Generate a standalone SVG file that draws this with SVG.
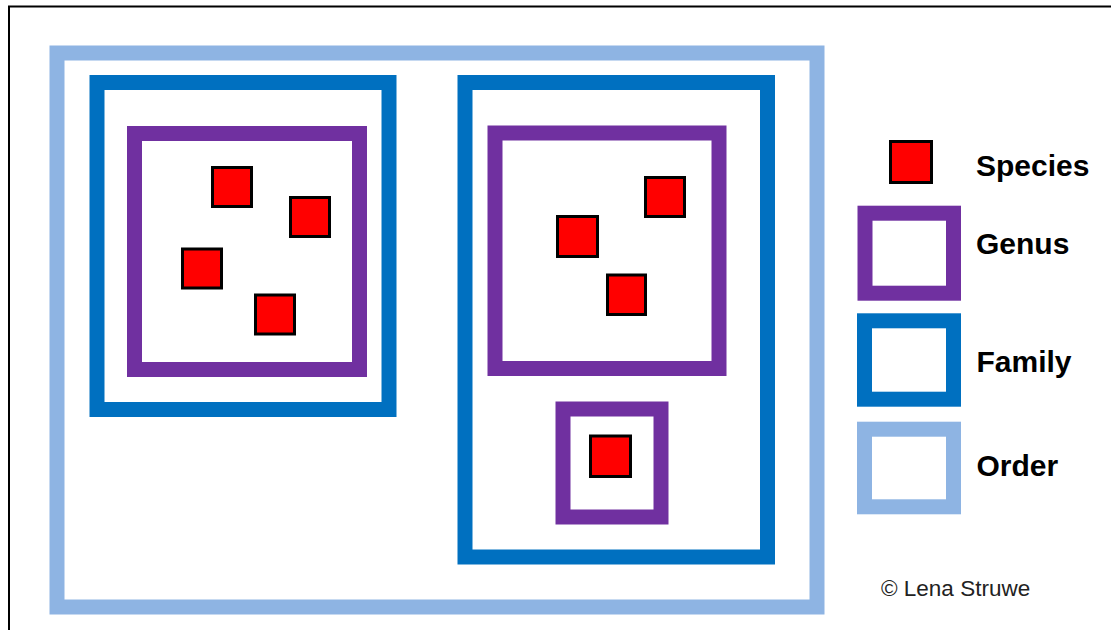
<svg xmlns="http://www.w3.org/2000/svg" width="1111" height="630" viewBox="0 0 1111 630">
  <style>
    .order { fill: none; stroke: #8EB4E3; stroke-width: 15; }
    .family { fill: none; stroke: #0070C0; stroke-width: 15; }
    .genus { fill: none; stroke: #7030A0; stroke-width: 15; }
    .species { fill: #FF0000; stroke: #000000; stroke-width: 3; }
    .label { font-family: "Liberation Sans", Arial, sans-serif; font-weight: bold; font-size: 30px; fill: #000000; }
    .credit { font-family: "Liberation Sans", Arial, sans-serif; font-size: 22.5px; fill: #222222; }
  </style>
  <rect x="0" y="0" width="1111" height="630" fill="#FFFFFF"/>
  <path d="M9 640 V6.5 H1120" fill="none" stroke="#000000" stroke-width="2"/>

  <g id="order">
    <rect class="order" x="57" y="53" width="760" height="554"/>
  </g>
  <g id="family1">
    <rect class="family" x="97" y="82.5" width="292" height="327"/>
  </g>
  <g id="genus1">
    <rect class="genus" x="134.5" y="133.5" width="225" height="236"/>
  </g>
  <g id="species1"><rect class="species" x="212.5" y="167.5" width="39" height="39"/></g>
  <g id="species2"><rect class="species" x="290.5" y="197.5" width="39" height="39"/></g>
  <g id="species3"><rect class="species" x="182.5" y="249" width="39" height="39"/></g>
  <g id="species4"><rect class="species" x="255.5" y="295" width="39" height="39"/></g>

  <g id="family2">
    <rect class="family" x="465" y="82.5" width="302.5" height="474.5"/>
  </g>
  <g id="genus2">
    <rect class="genus" x="495" y="133" width="224" height="235.5"/>
  </g>
  <g id="species5"><rect class="species" x="645.5" y="177.5" width="39" height="39"/></g>
  <g id="species6"><rect class="species" x="557.5" y="216.5" width="40" height="40"/></g>
  <g id="species7"><rect class="species" x="607.5" y="275" width="38" height="39.5"/></g>
  <g id="genus3">
    <rect class="genus" x="563" y="409" width="98" height="108"/>
  </g>
  <g id="species8"><rect class="species" x="590.5" y="436" width="40" height="40.5"/></g>

  <g id="legend">
    <g id="legend-species">
      <rect class="species" x="890.5" y="141.5" width="41" height="41"/>
      <text class="label" x="976" y="176">Species</text>
    </g>
    <g id="legend-genus">
      <rect class="genus" x="865" y="213.2" width="88.5" height="80"/>
      <text class="label" x="976" y="254">Genus</text>
    </g>
    <g id="legend-family">
      <rect class="family" x="864.5" y="320.8" width="89" height="78.4"/>
      <text class="label" x="976.5" y="372">Family</text>
    </g>
    <g id="legend-order">
      <rect class="order" x="864.5" y="429.2" width="89" height="77.6"/>
      <text class="label" x="976.5" y="476">Order</text>
    </g>
  </g>

  <g id="connectors"></g>

  <text class="credit" x="881" y="596">© Lena Struwe</text>
</svg>
